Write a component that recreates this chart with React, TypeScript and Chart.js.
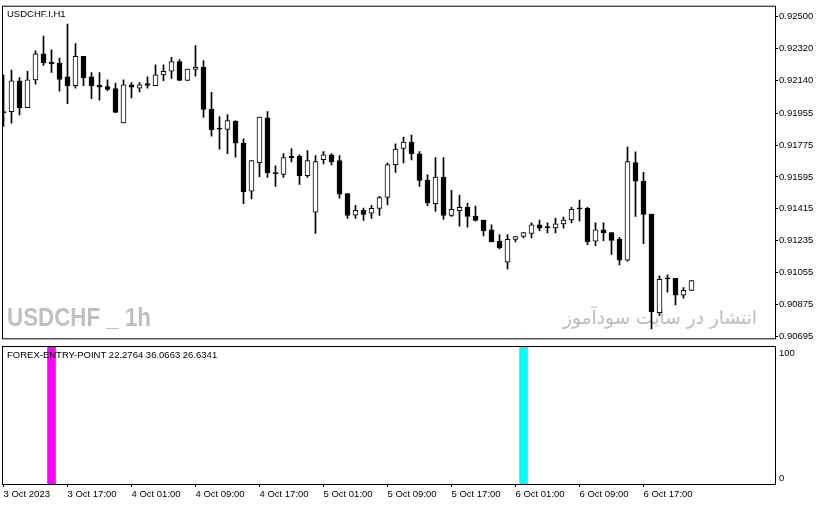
import React, { useEffect, useRef } from "react";
import { Chart, registerables } from "chart.js";

Chart.register(...registerables);

// ---- data (hourly candles, USDCHF.I H1, from 3 Oct 2023 09:00) ----
const opens = [
  0.91964, 0.91964, 0.92138, 0.91987, 0.92143, 0.92291, 0.92244, 0.92238, 0.9216, 0.9211,
  0.92277, 0.9216, 0.92112, 0.92105, 0.92094, 0.91901, 0.92116, 0.92097, 0.92123, 0.9211,
  0.92171, 0.92192, 0.92247, 0.92141, 0.92203, 0.92216, 0.91978, 0.9187, 0.91863, 0.91909,
  0.91786, 0.91515, 0.91676, 0.91929, 0.91618, 0.9161, 0.91711, 0.91711, 0.91603, 0.91396,
  0.91693, 0.9172, 0.91687, 0.91501, 0.9138, 0.91407, 0.91391, 0.91418, 0.91479, 0.91665,
  0.91757, 0.91792, 0.91726, 0.91578, 0.91444, 0.91594, 0.91378, 0.91405, 0.91424, 0.91374,
  0.91352, 0.91297, 0.91232, 0.91114, 0.91243, 0.91259, 0.91276, 0.91325, 0.9131, 0.91308,
  0.9133, 0.91352, 0.91416, 0.91418, 0.91232, 0.91297, 0.91281, 0.91243, 0.91125, 0.91676,
  0.91572, 0.91385, 0.90829, 0.91021, 0.91023, 0.90927, 0.90955,
];
const highs = [
  0.92172, 0.92198, 0.92156, 0.92192, 0.92308, 0.9239, 0.92313, 0.92266, 0.92458, 0.92348,
  0.92277, 0.92185, 0.92185, 0.92143, 0.92124, 0.92143, 0.92128, 0.92128, 0.9216, 0.92229,
  0.92229, 0.92271, 0.92258, 0.92205, 0.92337, 0.92253, 0.92073, 0.91936, 0.91947, 0.91914,
  0.9181, 0.91687, 0.91934, 0.91964, 0.91658, 0.91727, 0.91755, 0.9172, 0.91744, 0.91716,
  0.91738, 0.91727, 0.91716, 0.91501, 0.91435, 0.9142, 0.91435, 0.91486, 0.91673, 0.91782,
  0.91821, 0.91832, 0.91738, 0.91607, 0.91705, 0.91705, 0.9152, 0.91491, 0.91447, 0.91431,
  0.91352, 0.91325, 0.9127, 0.9127, 0.91259, 0.91281, 0.91336, 0.91352, 0.91336, 0.91363,
  0.91369, 0.91424, 0.91464, 0.91424, 0.91336, 0.91336, 0.91281, 0.91254, 0.91764, 0.91737,
  0.91621, 0.91385, 0.91037, 0.91043, 0.91023, 0.90971, 0.9101,
];
const lows = [
  0.91881, 0.91899, 0.91945, 0.91987, 0.92119, 0.92225, 0.92185, 0.92079, 0.92009, 0.92097,
  0.9211, 0.92037, 0.92029, 0.92083, 0.9196, 0.91901, 0.92042, 0.92075, 0.92097, 0.9211,
  0.92139, 0.92152, 0.92141, 0.92141, 0.92164, 0.91932, 0.91826, 0.91752, 0.91726, 0.91707,
  0.91444, 0.91471, 0.91597, 0.91592, 0.91542, 0.91592, 0.9168, 0.91553, 0.91592, 0.91277,
  0.91669, 0.91663, 0.91476, 0.91361, 0.91361, 0.9135, 0.91361, 0.91378, 0.91438, 0.91621,
  0.91674, 0.91691, 0.91542, 0.91433, 0.914, 0.91356, 0.91372, 0.91317, 0.91312, 0.91345,
  0.91262, 0.91229, 0.91189, 0.91076, 0.91229, 0.91251, 0.91251, 0.91292, 0.91279, 0.91279,
  0.91306, 0.91336, 0.91347, 0.91213, 0.91207, 0.91235, 0.91158, 0.91098, 0.9112, 0.91372,
  0.91218, 0.90737, 0.90812, 0.90944, 0.90872, 0.90911, 0.90955,
];
const closes = [
  0.91958, 0.92138, 0.91987, 0.92143, 0.92291, 0.9224, 0.92233, 0.92146, 0.9211, 0.92277,
  0.92156, 0.9211, 0.92102, 0.9209, 0.9196, 0.92116, 0.92102, 0.92116, 0.92112, 0.92172,
  0.92192, 0.92247, 0.92141, 0.92205, 0.92214, 0.91977, 0.91862, 0.91865, 0.91914, 0.91786,
  0.91512, 0.91687, 0.91934, 0.91618, 0.91614, 0.91704, 0.91702, 0.91603, 0.91687, 0.91682,
  0.9172, 0.9168, 0.91498, 0.91378, 0.91407, 0.91383, 0.91418, 0.91479, 0.91665, 0.91753,
  0.91792, 0.91726, 0.91575, 0.91449, 0.91594, 0.91378, 0.91413, 0.91424, 0.91372, 0.9135,
  0.9129, 0.91229, 0.91196, 0.91243, 0.91259, 0.91281, 0.91325, 0.91306, 0.91309, 0.9133,
  0.91352, 0.91413, 0.91415, 0.91229, 0.91297, 0.91281, 0.91237, 0.91125, 0.91682, 0.91572,
  0.91383, 0.90834, 0.91017, 0.9102, 0.90927, 0.90955, 0.9101,
];

const priceTicks = [0.925, 0.9232, 0.9214, 0.91955, 0.91775, 0.91595, 0.91415, 0.91235, 0.91055, 0.90875, 0.90695];
const timeTickBars = [0, 8, 16, 24, 32, 40, 48, 56, 64, 72, 80];
const timeTickLabels = [
  "3 Oct 2023", "3 Oct 17:00", "4 Oct 01:00", "4 Oct 09:00", "4 Oct 17:00", "5 Oct 01:00",
  "5 Oct 09:00", "5 Oct 17:00", "6 Oct 01:00", "6 Oct 09:00", "6 Oct 17:00",
];

// indicator (FOREX-ENTRY-POINT) signal bars
const sellSignalBars = [6];
const sellSignalValues = [100];
const buySignalBars = [65];
const buySignalValues = [100];
const indicatorTicks = [100, 0];

const symbolTitle = "USDCHF.I,H1";
const indicatorTitle = "FOREX-ENTRY-POINT 22.2764 36.0663 26.6341";
const watermarkLeft = "USDCHF _ 1h";
const watermarkRight = "انتشار در سایت سودآموز";

const PRICE_MIN = 0.906841;
const PRICE_MAX = 0.925566;
const X_MIN = -0.0625;
const X_MAX = 96.4375;
const AXIS_W = 46;
const FONT = "Liberation Sans, Arial, sans-serif";

const framePlugin = {
  id: "frame",
  afterDatasetsDraw(chart: any) {
    const { ctx, chartArea: a } = chart;
    ctx.save();
    ctx.strokeStyle = "#000";
    ctx.lineWidth = 1;
    ctx.strokeRect(a.left - 0.5, a.top - 0.5, a.right - a.left + 1, a.bottom - a.top + 1);
    ctx.restore();
  },
};

function fitText(ctx: any, text: string, x: number, y: number, width: number) {
  const w = ctx.measureText(text).width;
  ctx.save();
  ctx.translate(x, y);
  ctx.scale(width / w, 1);
  ctx.fillText(text, 0, 0);
  ctx.restore();
}

const mainTextPlugin = {
  id: "mainText",
  beforeDatasetsDraw(chart: any) {
    const { ctx, chartArea: a } = chart;
    ctx.save();
    ctx.textBaseline = "alphabetic";
    ctx.textAlign = "left";
    // left watermark: bold, horizontally condensed
    ctx.fillStyle = "#c0c0c0";
    ctx.font = 'bold 26px "Liberation Sans", Arial, sans-serif';
    fitText(ctx, watermarkLeft, a.left + 4, a.bottom - 12, 144);
    // right watermark (Persian)
    ctx.fillStyle = "#bdbdbd";
    ctx.font = '19px "DejaVu Sans", sans-serif';
    fitText(ctx, watermarkRight, a.left + 560, a.bottom - 14, 194);
    ctx.restore();
  },
  afterDraw(chart: any) {
    const { ctx, chartArea: a } = chart;
    ctx.save();
    ctx.fillStyle = "#000";
    ctx.textBaseline = "middle";
    ctx.textAlign = "left";
    ctx.font = "9.5px " + FONT;
    ctx.fillText(symbolTitle, a.left + 4, a.top + 8);
    ctx.restore();
  },
};

const subTextPlugin = {
  id: "subText",
  afterDraw(chart: any) {
    const { ctx, chartArea: a } = chart;
    const y = chart.scales.y;
    ctx.save();
    ctx.fillStyle = "#000";
    ctx.textBaseline = "middle";
    ctx.textAlign = "left";
    ctx.font = "9.5px " + FONT;
    ctx.fillText(indicatorTitle, a.left + 4, a.top + 8);
    indicatorTicks.forEach((v) => {
      const py = Math.min(Math.max(y.getPixelForValue(v), a.top + 6), a.bottom - 6);
      ctx.fillText(String(v), a.right + 4, py);
    });
    ctx.restore();
  },
};

export default function App() {
  const mainRef = useRef<HTMLCanvasElement | null>(null);
  const subRef = useRef<HTMLCanvasElement | null>(null);

  useEffect(() => {
    document.body.style.margin = "0";
    const idx = opens.map((_, i) => i);

    const main = new Chart(mainRef.current as HTMLCanvasElement, {
      type: "bar",
      data: {
        datasets: [
          {
            label: "body",
            data: idx.map((i) => ({ x: i, y: [opens[i], closes[i]] })) as any,
            backgroundColor: idx.map((i) => (closes[i] > opens[i] ? "#ffffff" : "#000000")),
            borderColor: "#000000",
            borderWidth: 1,
            borderSkipped: false,
            barThickness: 5,
            minBarLength: 1,
            grouped: false,
            order: 0,
          } as any,
          {
            label: "wick",
            data: idx.map((i) => ({ x: i, y: [lows[i], highs[i]] })) as any,
            backgroundColor: "#000000",
            borderWidth: 0,
            barThickness: 1,
            grouped: false,
            order: 1,
          } as any,
        ],
      },
      options: {
        animation: false,
        responsive: false,
        maintainAspectRatio: false,
        events: [],
        layout: { padding: { left: 3, top: 3, bottom: 1, right: 0 } },
        plugins: { legend: { display: false }, tooltip: { enabled: false } },
        scales: {
          x: { type: "linear", display: false, min: X_MIN, max: X_MAX, offset: false },
          y: {
            type: "linear",
            position: "right",
            min: PRICE_MIN,
            max: PRICE_MAX,
            afterBuildTicks: (s: any) => {
              s.ticks = priceTicks.map((v) => ({ value: v }));
            },
            afterFit: (s: any) => {
              s.width = AXIS_W;
            },
            ticks: {
              autoSkip: false,
              padding: 1,
              color: "#000",
              font: { family: FONT, size: 9.5 },
              callback: (v: any) => Number(v).toFixed(5),
            },
            grid: { drawOnChartArea: false, drawTicks: true, tickLength: 3, color: "#000", lineWidth: 1 },
            border: { display: false },
          },
        },
      } as any,
      plugins: [mainTextPlugin, framePlugin],
    });

    const sub = new Chart(subRef.current as HTMLCanvasElement, {
      type: "bar",
      data: {
        datasets: [
          {
            label: "sell",
            data: sellSignalBars.map((b, i) => ({ x: b, y: sellSignalValues[i] })) as any,
            backgroundColor: "#ff00ff",
            borderWidth: 0,
            barThickness: 8,
            grouped: false,
          } as any,
          {
            label: "buy",
            data: buySignalBars.map((b, i) => ({ x: b, y: buySignalValues[i] })) as any,
            backgroundColor: "#00ffff",
            borderWidth: 0,
            barThickness: 8,
            grouped: false,
          } as any,
        ],
      },
      options: {
        animation: false,
        responsive: false,
        maintainAspectRatio: false,
        events: [],
        layout: { padding: { left: 3, top: 2, bottom: 0, right: 0 } },
        plugins: { legend: { display: false }, tooltip: { enabled: false } },
        scales: {
          x: {
            type: "linear",
            position: "bottom",
            min: X_MIN,
            max: X_MAX,
            offset: false,
            afterBuildTicks: (s: any) => {
              s.ticks = timeTickBars.map((v) => ({ value: v }));
            },
            afterFit: (s: any) => {
              s.height = 22;
            },
            ticks: {
              autoSkip: false,
              maxRotation: 0,
              minRotation: 0,
              align: "start",
              padding: 2,
              color: "#000",
              font: { family: FONT, size: 9.5 },
              callback: (_v: any, i: number) => timeTickLabels[i],
            },
            grid: { drawOnChartArea: false, drawTicks: true, tickLength: 3, color: "#000", offset: false },
            border: { display: false },
          },
          y: {
            type: "linear",
            position: "right",
            min: 0,
            max: 100,
            afterFit: (s: any) => {
              s.width = AXIS_W;
            },
            ticks: { display: false },
            grid: { display: false },
            border: { display: false },
          },
        },
      } as any,
      plugins: [subTextPlugin, framePlugin],
    });

    return () => {
      main.destroy();
      sub.destroy();
    };
  }, []);

  return (
    <div style={{ position: "relative", width: 821, height: 506, background: "#fff", overflow: "hidden" }}>
      <canvas
        ref={mainRef}
        width={821}
        height={345}
        style={{ position: "absolute", left: 0, top: 0, width: 821, height: 345 }}
      />
      <canvas
        ref={subRef}
        width={821}
        height={161}
        style={{ position: "absolute", left: 0, top: 345, width: 821, height: 161 }}
      />
    </div>
  );
}
